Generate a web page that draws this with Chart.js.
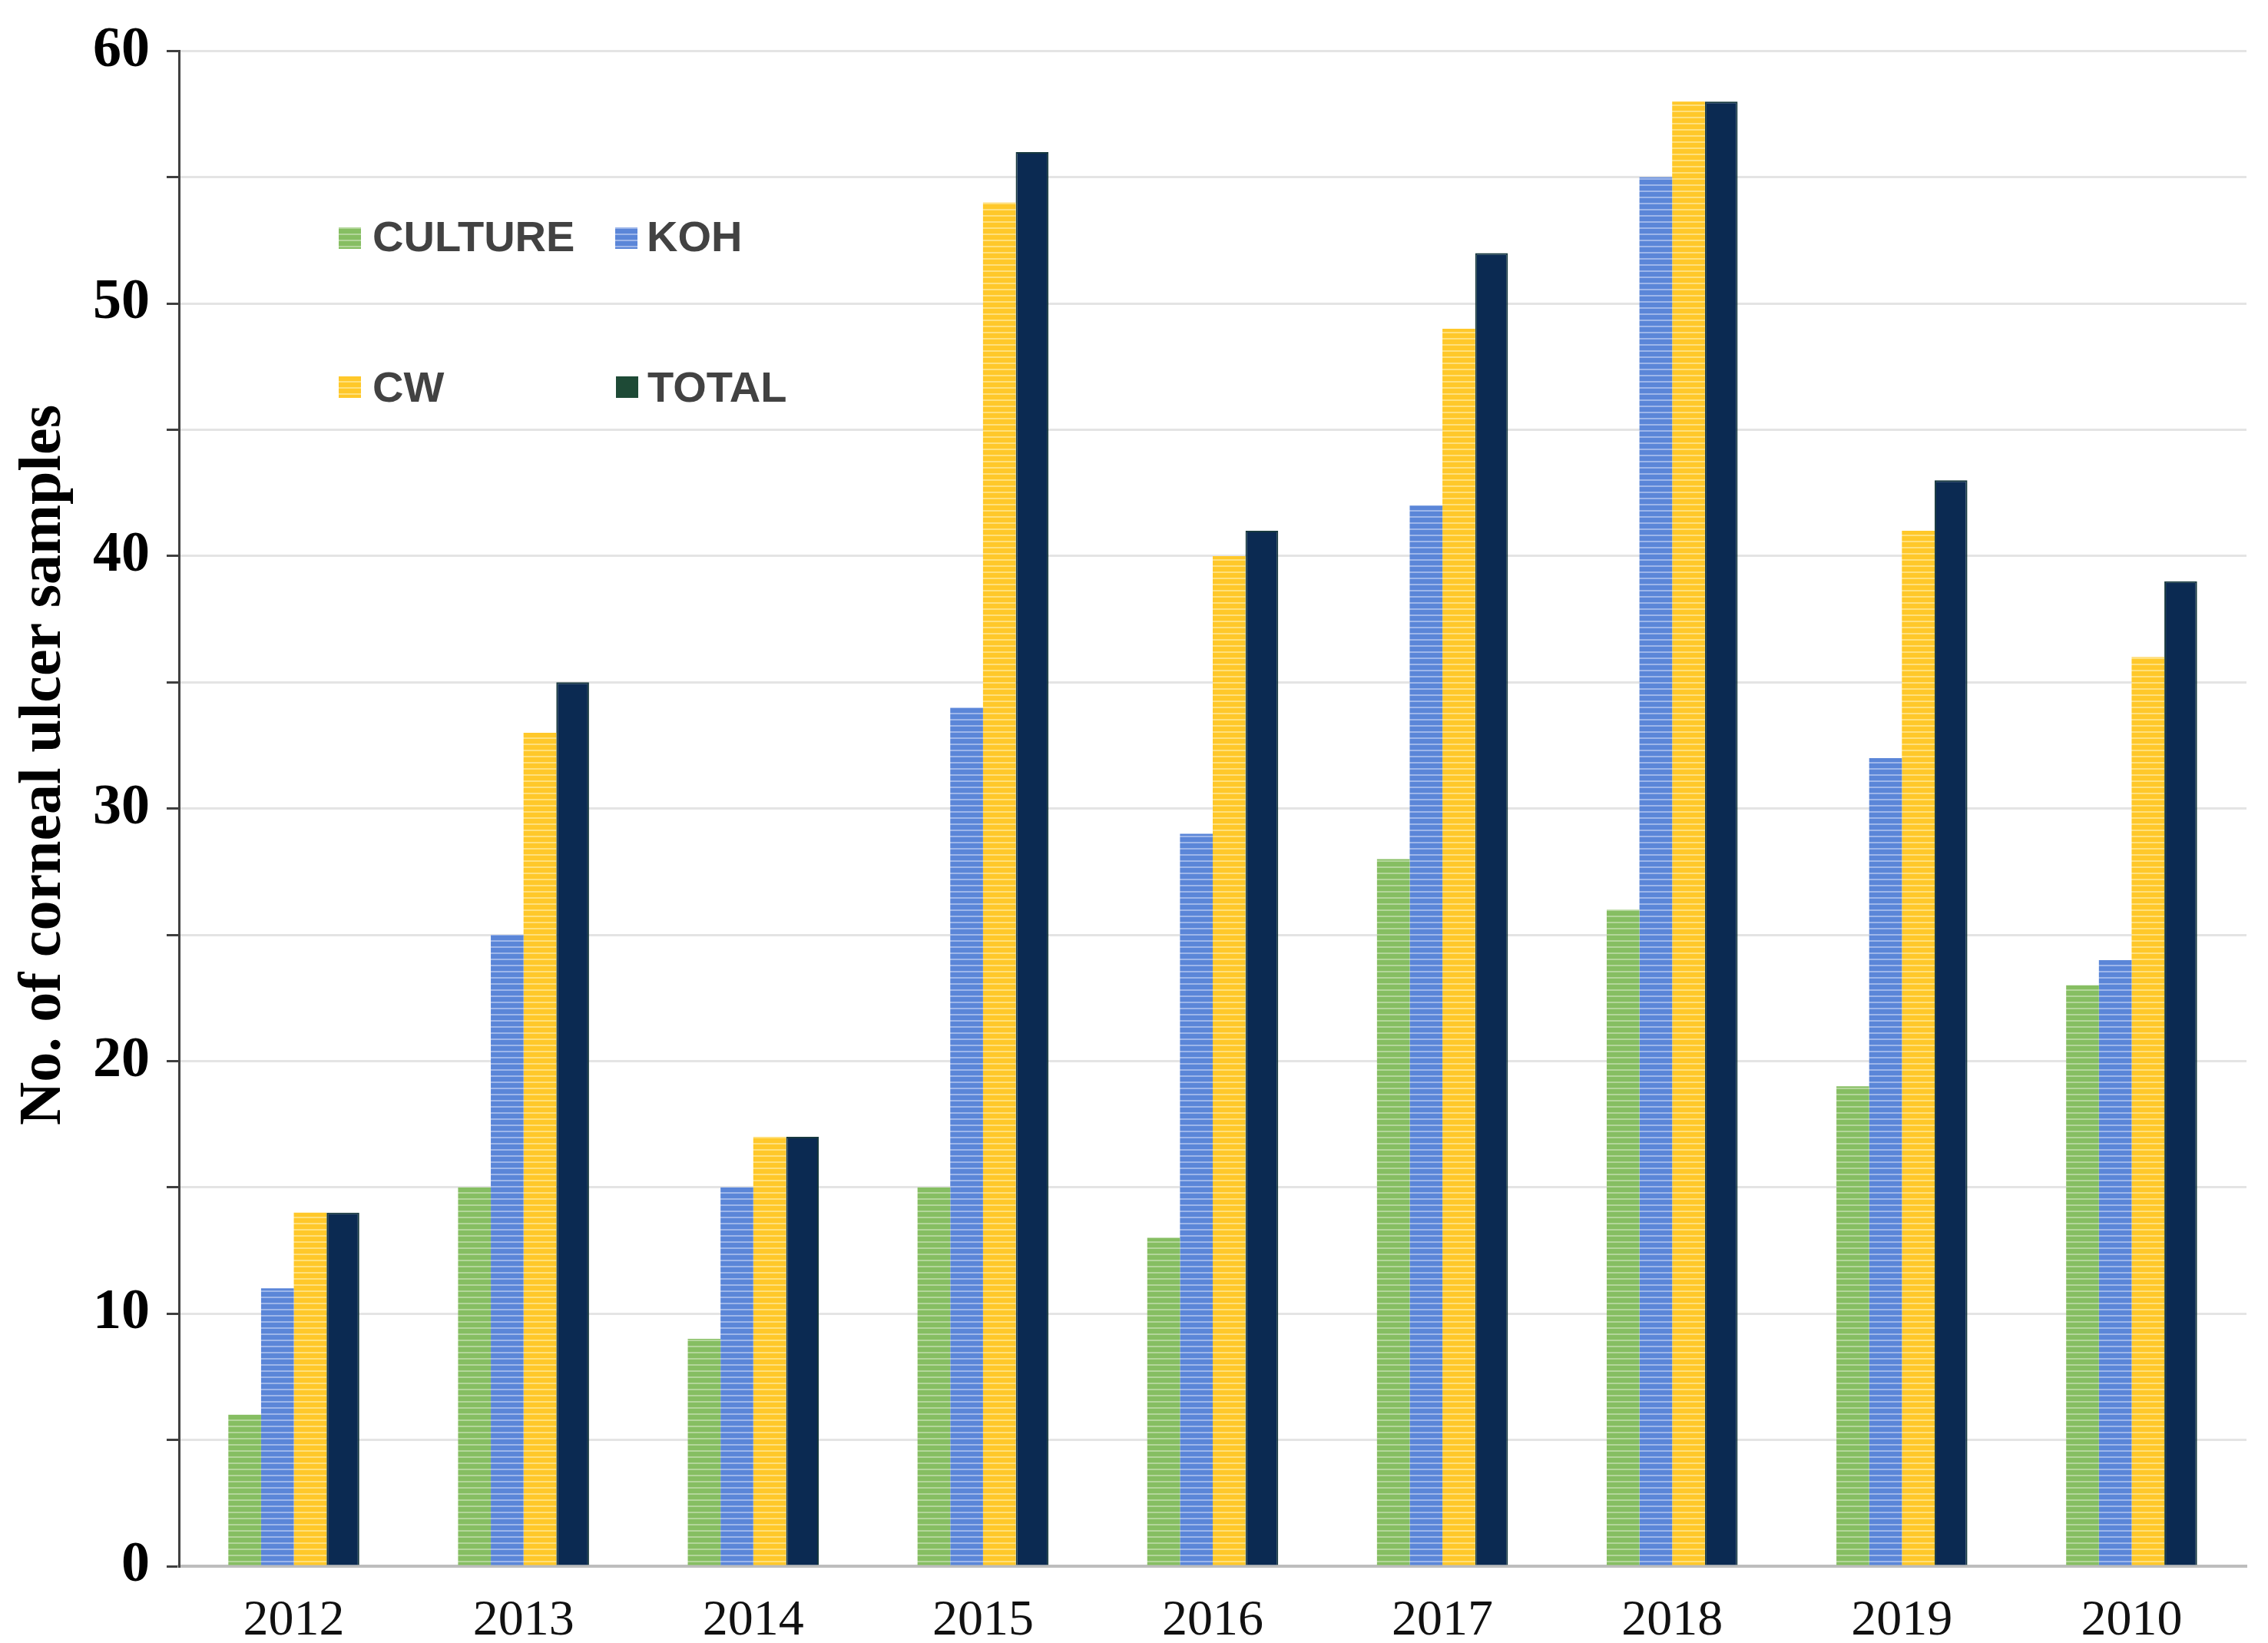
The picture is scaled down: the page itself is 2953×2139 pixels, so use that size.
<!DOCTYPE html>
<html>
<head>
<meta charset="utf-8">
<script src="https://cdn.jsdelivr.net/npm/chart.js@4.4.0/dist/chart.umd.min.js"></script>
<style>
  html, body { margin: 0; padding: 0; background: #fff; }
  #wrap { width: 2953px; height: 2139px; }
</style>
</head>
<body>
<div id="wrap"><canvas id="myChart"></canvas></div>
<script>
// data
const years = ['2012', '2013', '2014', '2015', '2016', '2017', '2018', '2019', '2010'];
const culture = [6, 15, 9, 15, 13, 28, 26, 19, 23];
const koh = [11, 25, 15, 34, 29, 42, 55, 32, 24];
const cw = [14, 33, 17, 54, 40, 49, 58, 41, 36];
const total = [14, 35, 17, 56, 41, 52, 58, 43, 39];
const yTicks = [0, 10, 20, 30, 40, 50, 60];
const yTitle = 'No. of corneal ulcer samples';

// striped fill like the original bars
function stripes(base, line) {
  const c = document.createElement('canvas');
  c.width = 8; c.height = 8;
  const g = c.getContext('2d');
  g.fillStyle = base;
  g.fillRect(0, 0, 8, 8);
  g.fillStyle = line;
  g.fillRect(0, 0, 8, 2);
  return g.createPattern(c, 'repeat');
}

const greenFill = stripes('#86be62', '#b3d69a');
const blueFill = stripes('#5b86d8', '#9db6ea');
const yellowFill = stripes('#ffc82a', '#ffe07c');

// legend drawn inside the plot, two rows
const legendSpots = [
  { box: [441, 296], text: [485, 327] },
  { box: [801, 296], text: [842, 327] },
  { box: [441, 490], text: [485, 523] },
  { box: [802, 490], text: [843, 523] }
];
const legendSquares = [greenFill, blueFill, yellowFill, '#1e4a36'];

const insideLegend = {
  id: 'insideLegend',
  afterDraw(chart) {
    const ctx = chart.ctx;
    ctx.save();
    ctx.font = 'bold 56px "Liberation Sans", Arial, sans-serif';
    ctx.textBaseline = 'alphabetic';
    ctx.textAlign = 'left';
    chart.data.datasets.forEach((ds, i) => {
      const s = legendSpots[i];
      ctx.fillStyle = legendSquares[i];
      ctx.fillRect(s.box[0], s.box[1], 29, 28);
      ctx.fillStyle = '#424242';
      ctx.fillText(ds.label, s.text[0], s.text[1]);
    });
    ctx.restore();
  }
};

// y title sits a bit above the axis middle in the original
const sideTitle = {
  id: 'sideTitle',
  afterDraw(chart) {
    const ctx = chart.ctx;
    ctx.save();
    ctx.translate(58, 996);
    ctx.rotate(-Math.PI / 2);
    ctx.font = 'bold 78px "Liberation Serif", "Times New Roman", serif';
    ctx.fillStyle = '#000';
    ctx.textAlign = 'center';
    ctx.textBaseline = 'middle';
    ctx.fillText(yTitle, 0, 0);
    ctx.restore();
  }
};

Chart.defaults.font.family = '"Liberation Serif", "Times New Roman", serif';

new Chart(document.getElementById('myChart'), {
  type: 'bar',
  data: {
    labels: years,
    datasets: [
      { label: 'CULTURE', data: culture, backgroundColor: greenFill },
      { label: 'KOH', data: koh, backgroundColor: blueFill },
      { label: 'CW', data: cw, backgroundColor: yellowFill },
      { label: 'TOTAL', data: total, backgroundColor: '#0b2a52', borderColor: '#17393f', borderWidth: 2 }
    ]
  },
  options: {
    responsive: true,
    maintainAspectRatio: false,
    devicePixelRatio: 1,
    animation: false,
    layout: { padding: { top: 62, right: 28, left: 0, bottom: 0 } },
    datasets: { bar: { barPercentage: 1, categoryPercentage: 0.57 } },
    plugins: { legend: { display: false }, tooltip: { enabled: false } },
    scales: {
      x: {
        grid: { display: false, drawTicks: false },
        border: { display: true, color: '#bdbdbd', width: 4 },
        ticks: { color: '#111', font: { size: 66 }, padding: 32, maxRotation: 0 },
        afterFit(scale) { scale.height = 100; }
      },
      y: {
        min: 0,
        max: 60,
        ticks: {
          stepSize: 5,
          color: '#000',
          font: { size: 74, weight: 'bold' },
          padding: 22,
          callback: v => yTicks.includes(v) ? v : ''
        },
        grid: { color: '#e4e4e4', lineWidth: 3, tickColor: '#404040', tickWidth: 3, tickLength: 16 },
        border: { display: true, color: '#404040', width: 3 },
        afterFit(scale) { scale.width = 233; }
      }
    }
  },
  plugins: [insideLegend, sideTitle]
});
</script>
</body>
</html>
